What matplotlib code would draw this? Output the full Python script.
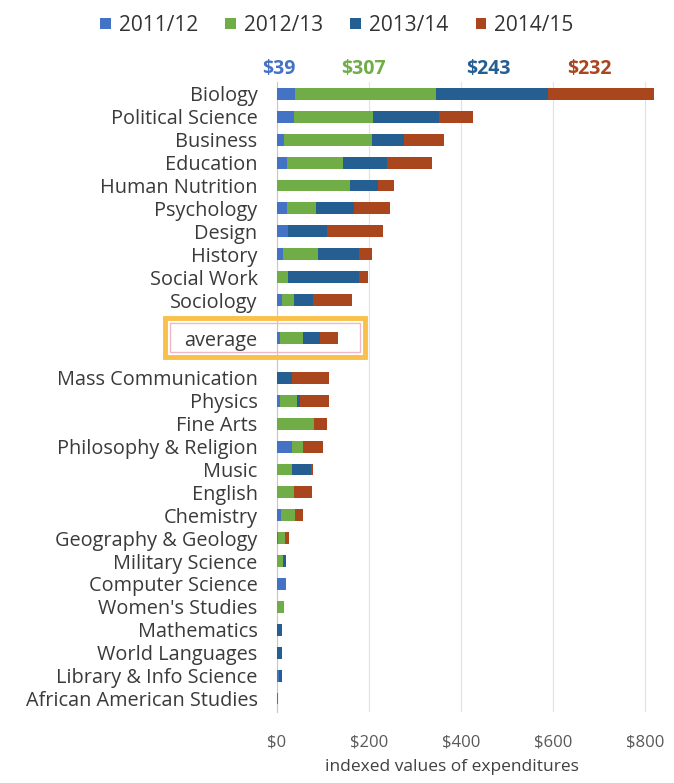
import numpy as np
import matplotlib.pyplot as plt
from matplotlib.patches import Rectangle

plt.rcParams['font.family'] = ['Open Sans', 'DejaVu Sans']

# data
categories = ['Biology', 'Political Science', 'Business', 'Education', 'Human Nutrition',
              'Psychology', 'Design', 'History', 'Social Work', 'Sociology', 'average',
              'Mass Communication', 'Physics', 'Fine Arts', 'Philosophy & Religion', 'Music',
              'English', 'Chemistry', 'Geography & Geology', 'Military Science',
              'Computer Science', "Women's Studies", 'Mathematics', 'World Languages',
              'Library & Info Science', 'African American Studies']
years = ['2011/12', '2012/13', '2013/14', '2014/15']
y2011 = [39, 37, 16, 21, 0, 22, 25, 14, 0, 10, 7,
         0, 7, 0, 32, 0, 0, 9, 3, 0, 19, 0, 0, 0, 5, 3]
y2012 = [307, 172, 191, 123, 159, 62, 0, 76, 25, 27, 49,
         0, 36, 80, 25, 32, 37, 30, 15, 12, 0, 16, 0, 0, 0, 0]
y2013 = [243, 144, 69, 96, 60, 83, 83, 89, 154, 41, 37,
         32, 6, 0, 0, 43, 0, 0, 0, 8, 0, 0, 10, 10, 5, 0]
y2014 = [232, 74, 87, 98, 36, 79, 123, 27, 18, 86, 40,
         81, 64, 28, 42, 4, 40, 17, 8, 0, 0, 0, 0, 0, 0, 0]
totals_top = ['$39', '$307', '$243', '$232']

colors = ['#4472C4', '#70AD47', '#255E91', '#A9461D']

# vertical positions: top ten, a gap, the average, a gap, the rest
pos = list(range(10)) + [10.66] + [12.4 + i for i in range(15)]
pos = np.array(pos)

fig = plt.figure(figsize=(6.74, 7.83), dpi=100)
ax = fig.add_axes([277 / 674, 1 - 712 / 783, 377 / 674, 630 / 783])

left = np.zeros(len(categories))
for vals, c, lab in zip([y2011, y2012, y2013, y2014], colors, years):
    ax.barh(pos, vals, left=left, height=0.52, color=c, label=lab, zorder=3)
    left += np.array(vals)

ax.set_xlim(0, 820)
ax.set_ylim(26.99, -0.52)
ax.set_yticks(pos)
ax.set_yticklabels(categories, fontsize=14.3, color='#3a3a3a')
ax.set_xticks([0, 200, 400, 600, 800])
ax.set_xticklabels(['$0', '$200', '$400', '$600', '$800'], fontsize=12, color='#595959')
ax.tick_params(axis='y', length=0, pad=14)
ax.tick_params(axis='x', length=0, pad=16)
ax.grid(axis='x', color='#E3E3E3', linewidth=0.9, zorder=0)
for s in ['top', 'right', 'bottom']:
    ax.spines[s].set_visible(False)
ax.spines['left'].set_color('#C8C8C8')
ax.set_xlabel('indexed values of expenditures', fontsize=12.5, color='#404040')
ax.xaxis.set_label_coords(0.465, -0.075)

# Biology totals on top
label_x = [3, 188, 460, 680]
for tx, t, c in zip(label_x, totals_top, colors):
    ax.text(tx, -1.1, t, color=c, fontsize=14, fontweight='bold', ha='center', va='center')

# highlight box around average
fig.patches.append(Rectangle((165 / 674, 1 - 357 / 783), 200 / 674, 39 / 783,
                             transform=fig.transFigure, fill=False,
                             edgecolor='#F9C04A', linewidth=3.5))
fig.patches.append(Rectangle((170 / 674, 1 - 352 / 783), 190 / 674, 29 / 783,
                             transform=fig.transFigure, fill=False,
                             edgecolor='#F2B8C6', linewidth=1))

fig.legend(loc='upper center', bbox_to_anchor=(0.5, 1.005), ncol=4, frameon=False,
           fontsize=15, handlelength=0.5, handleheight=0.5, handletextpad=0.4,
           columnspacing=1.3, labelcolor='#333333')

fig.savefig('out.png', dpi=100)
